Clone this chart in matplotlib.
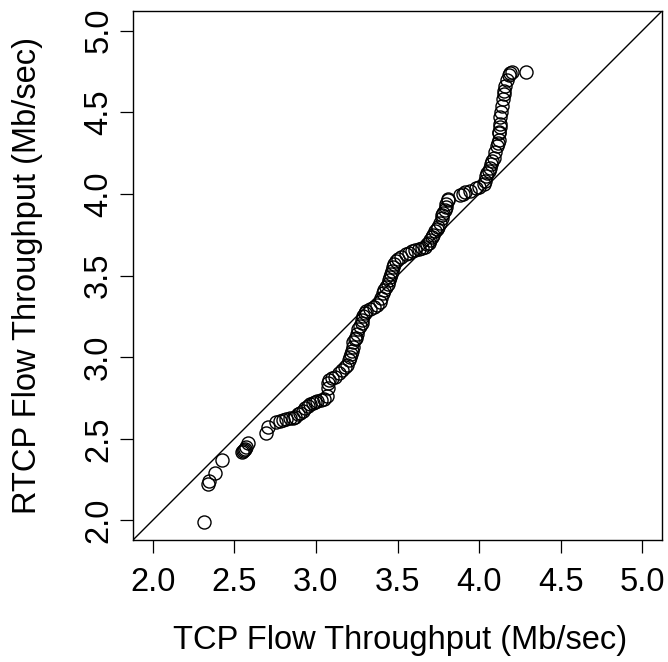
import numpy as np
import matplotlib
matplotlib.use("Agg")
import matplotlib.pyplot as plt

# sorted quantiles
tcp = [2.315, 2.34, 2.346, 2.38, 2.427, 2.549, 2.555, 2.559, 2.567, 2.574,
       2.586, 2.696, 2.706, 2.757, 2.78, 2.80, 2.82, 2.84, 2.86, 2.875,
       2.89, 2.90, 2.92, 2.935, 2.95, 2.965, 2.98, 2.995, 3.01, 3.03,
       3.05, 3.07, 3.072, 3.075, 3.08, 3.10, 3.12, 3.14, 3.16, 3.18,
       3.19, 3.20, 3.21, 3.215, 3.22, 3.225, 3.23, 3.24, 3.245, 3.25,
       3.26, 3.27, 3.28, 3.285, 3.29, 3.30, 3.305, 3.33, 3.355, 3.375,
       3.39, 3.40, 3.41, 3.42, 3.43, 3.44, 3.45, 3.455, 3.46, 3.465,
       3.47, 3.48, 3.49, 3.50, 3.52, 3.55, 3.57, 3.59, 3.61, 3.63,
       3.65, 3.67, 3.68, 3.69, 3.70, 3.71, 3.72, 3.73, 3.74, 3.75,
       3.76, 3.77, 3.775, 3.78, 3.79, 3.795, 3.80, 3.81, 3.812, 3.88,
       3.90, 3.915, 3.945, 3.98, 4.00, 4.03, 4.035, 4.04, 4.05, 4.06,
       4.065, 4.07, 4.08, 4.09, 4.10, 4.108, 4.115, 4.12, 4.12, 4.12,
       4.125, 4.125, 4.13, 4.135, 4.14, 4.145, 4.15, 4.155, 4.16, 4.17,
       4.18, 4.19, 4.20, 4.287]
rtcp = [1.988, 2.224, 2.243, 2.29, 2.367, 2.42, 2.427, 2.43, 2.44, 2.452,
        2.477, 2.538, 2.575, 2.60, 2.61, 2.615, 2.62, 2.625, 2.63, 2.635,
        2.65, 2.66, 2.67, 2.69, 2.70, 2.71, 2.72, 2.725, 2.73, 2.735,
        2.745, 2.76, 2.81, 2.84, 2.86, 2.87, 2.88, 2.90, 2.92, 2.94,
        2.95, 2.98, 3.00, 3.02, 3.04, 3.06, 3.09, 3.11, 3.12, 3.14,
        3.17, 3.19, 3.21, 3.23, 3.25, 3.27, 3.28, 3.295, 3.31, 3.32,
        3.34, 3.36, 3.39, 3.41, 3.43, 3.45, 3.47, 3.49, 3.51, 3.53,
        3.55, 3.57, 3.59, 3.60, 3.615, 3.63, 3.64, 3.65, 3.655, 3.66,
        3.67, 3.675, 3.69, 3.70, 3.72, 3.735, 3.75, 3.77, 3.785, 3.80,
        3.82, 3.85, 3.87, 3.88, 3.90, 3.92, 3.94, 3.96, 3.97, 3.99,
        4.00, 4.01, 4.02, 4.035, 4.04, 4.06, 4.08, 4.11, 4.125, 4.14,
        4.16, 4.18, 4.20, 4.22, 4.255, 4.296, 4.31, 4.33, 4.37, 4.38,
        4.41, 4.43, 4.47, 4.50, 4.54, 4.58, 4.61, 4.63, 4.66, 4.70,
        4.73, 4.74, 4.745, 4.745]

ticks = [2.0, 2.5, 3.0, 3.5, 4.0, 4.5, 5.0]
tick_labels = ["2.0", "2.5", "3.0", "3.5", "4.0", "4.5", "5.0"]

plt.rcParams['font.family'] = ['Liberation Sans', 'DejaVu Sans']

fig = plt.figure(figsize=(6.68, 6.62), dpi=100)
ax = fig.add_axes([133/668, 122/662, 529/668, 529/662])

ax.plot(tcp, rtcp, 'o', ms=9.4, mfc='none', mec='black', mew=1.0)
ax.plot([1.88, 5.12], [1.88, 5.12], color='black', lw=1.0)

ax.set_xlim(1.88, 5.12)
ax.set_ylim(1.88, 5.12)
ax.set_xticks(ticks)
ax.set_xticklabels(tick_labels)
ax.set_yticks(ticks)
ax.set_yticklabels(tick_labels, rotation=90, va='center')
ax.tick_params(axis='both', direction='out', length=9.5, width=0.9,
               labelsize=23.5, colors='black')
ax.tick_params(axis='x', pad=10)
ax.tick_params(axis='y', pad=4)
for s in ax.spines.values():
    s.set_linewidth(1.0)

fig.text(400/668, 1 - 641/662, "TCP Flow Throughput (Mb/sec)",
         ha='center', va='center', fontsize=23.5)
fig.text(28/668, 1 - 275/662, "RTCP Flow Throughput (Mb/sec)",
         ha='center', va='center', rotation=90, fontsize=23.5)

fig.savefig("out.png", dpi=100)
